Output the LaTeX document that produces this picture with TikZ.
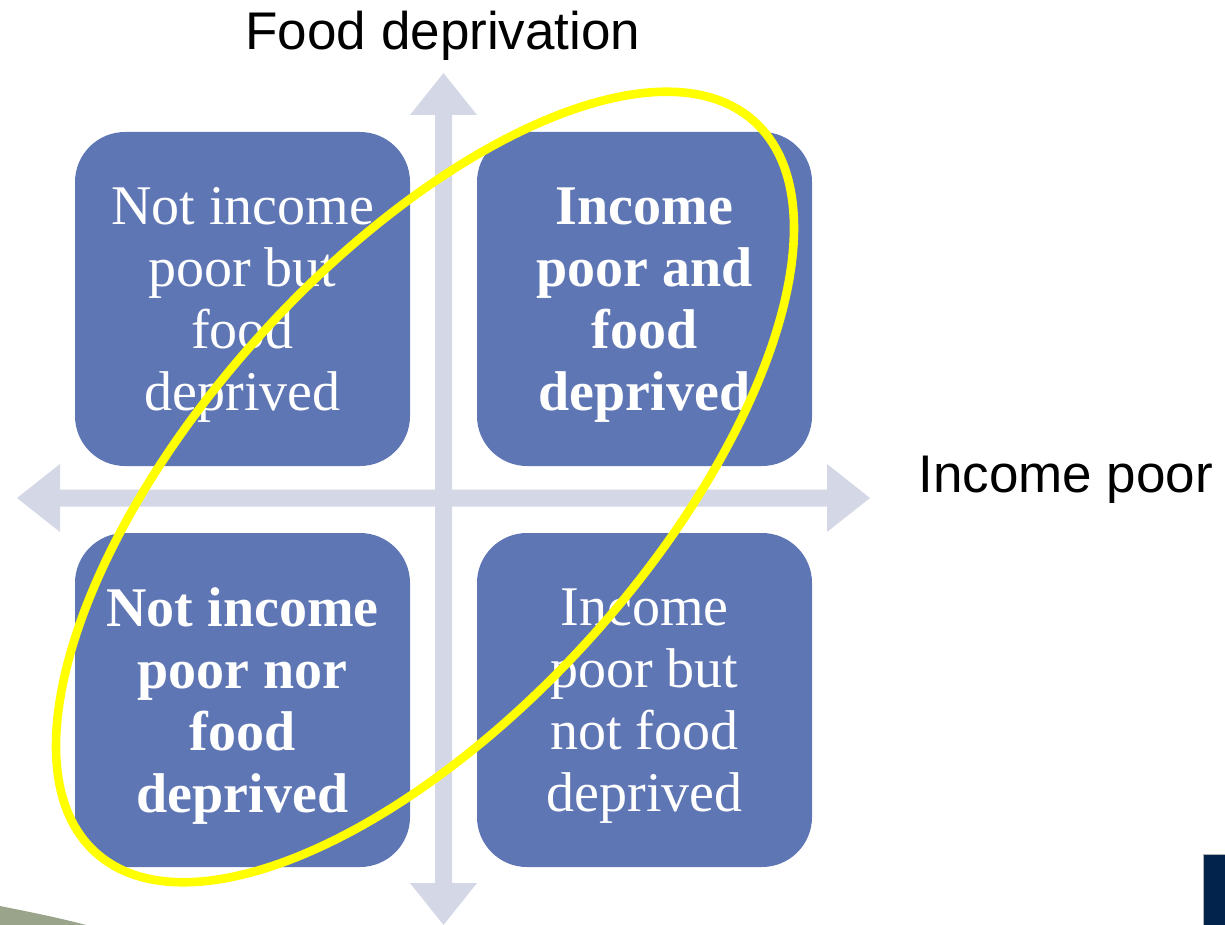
\documentclass[tikz,border=0pt]{standalone}
\usepackage{fontspec}
\setmainfont{Liberation Serif}
\newfontfamily\labelfont{Liberation Sans}
\usetikzlibrary{positioning}
\definecolor{Quad}{HTML}{5F76B5}
\definecolor{Axis}{HTML}{D4D7E6}
\definecolor{Ring}{HTML}{FFFF00}
\definecolor{Navy}{HTML}{02234B}
\definecolor{Swoosh}{HTML}{8E9A7D}
\tikzset{
    quadbox/.style={rectangle, rounded corners=25pt, fill=Quad, minimum width=167.5pt, minimum height=167pt, inner sep=0pt},
    quadtext/.style={text=white, align=center, inner sep=0pt, yshift=-3pt, font=\fontsize{28}{31}\selectfont},
    boldtext/.style={quadtext, font=\fontsize{28}{31}\selectfont\bfseries},
    axislabel/.style={font=\labelfont\fontsize{26.5}{30}\selectfont, text=black, inner sep=0pt},
    axisarrow/.style={fill=Axis, draw=none},
    ring/.style={draw=Ring, line width=4.3pt},
}

\begin{document}
\begin{tikzpicture}[x=0.5pt, y=-0.5pt]
    \useasboundingbox (0,0) rectangle (1225,925);

    % Assi (frecce a doppia punta)
    \fill[axisarrow] (17,498) -- (60,464) -- (60,489.5) -- (827,489.5) -- (827,464) -- (870,498)
        -- (827,532) -- (827,506.5) -- (60,506.5) -- (60,532) -- cycle;
    \fill[axisarrow] (443.5,73) -- (477,115) -- (452,115) -- (452,883) -- (477,883) -- (443.5,925)
        -- (410,883) -- (435,883) -- (435,115) -- (410,115) -- cycle;

    % Quadranti
    \node[quadbox] (notpoordep) at (242.5,299) {};
    \node[quadbox] (poordep) at (644.5,299) {};
    \node[quadbox] (neither) at (242.5,700) {};
    \node[quadbox] (poornotdep) at (644.5,700) {};

    % Testo dei quadranti
    \node[quadtext] (notpoordeptext) at (notpoordep) {Not income\\poor but\\food\\deprived};
    \node[boldtext] (poordeptext) at (poordep) {Income\\poor and\\food\\deprived};
    \node[boldtext] (neithertext) at (neither) {Not income\\poor nor\\food\\deprived};
    \node[quadtext] (poornotdeptext) at (poornotdep) {Income\\poor but\\not food\\deprived};

    % Etichette degli assi
    \node[axislabel] (ylabel) at (443,36) {Food deprivation};
    \node[axislabel, anchor=west] (xlabel) at (918,480) {Income poor};

    % Ellisse gialla sulla diagonale
    \draw[ring, rotate around={48:(425,487)}] (425,487) ellipse [x radius=492, y radius=224];

    % Decorazioni ai bordi
    \fill[Swoosh, opacity=0.9] (0,906) .. controls (30,912) and (60,918) .. (86,925) -- (0,925) -- cycle;
    \fill[Navy, draw=gray!60, line width=0.5pt] (1203,854) rectangle (1226,926);
\end{tikzpicture}
\end{document}
